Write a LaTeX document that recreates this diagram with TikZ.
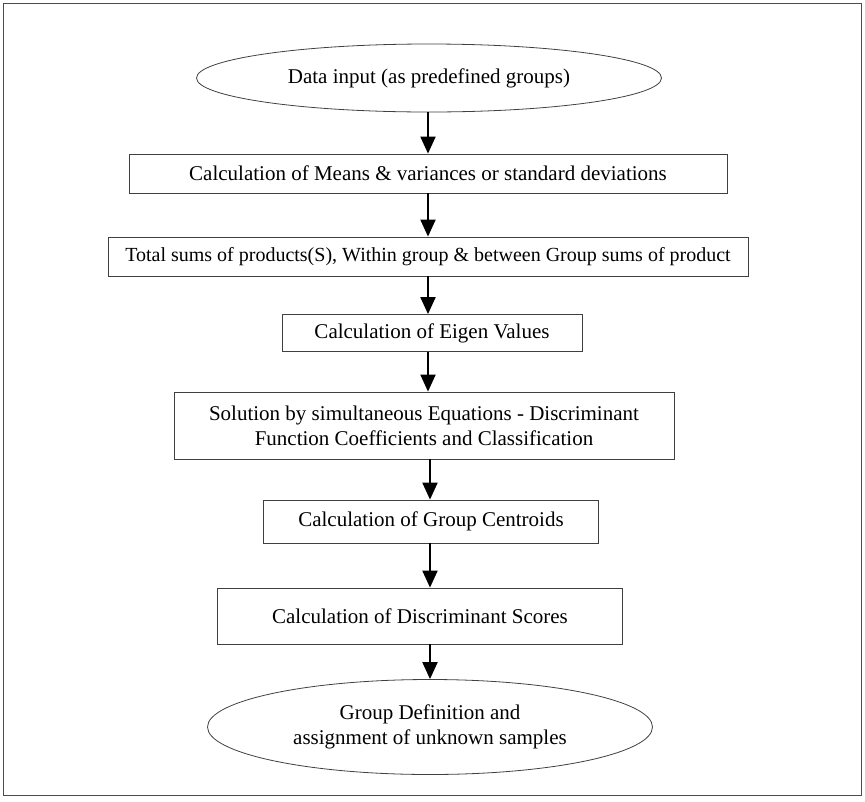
\documentclass[tikz,border=0pt]{standalone}
\usepackage{fontspec}
\setmainfont{Liberation Serif}
\usetikzlibrary{shapes.geometric,arrows.meta}
\tikzset{
  stepbox/.style={draw=black!75,line width=0.8pt,rectangle,align=center,inner sep=2pt,font=\fontsize{21}{25}\selectfont},
  endell/.style={draw=black!75,line width=0.8pt,ellipse,align=center,inner sep=0pt,font=\fontsize{21}{25}\selectfont},
  arr/.style={line width=2pt,-{Triangle[width=15pt,length=17pt]}}
}
\begin{document}
\begin{tikzpicture}[x=1pt,y=-1pt]
\useasboundingbox (0,0) rectangle (865,801);
\draw[black!70,line width=1pt] (3,3) rectangle (861,795);
\node[endell,minimum width=465pt,minimum height=68pt] (e1) at (429,78) {Data input (as predefined groups)};
\node[stepbox,minimum width=598pt,minimum height=39pt] (b2) at (428,173.5) {Calculation of Means \& variances or standard deviations};
\node[stepbox,minimum width=640pt,minimum height=39pt,font=\fontsize{20}{24}\selectfont] (b3) at (428,256.5) {Total sums of products(S), Within group \& between Group sums of product};
\node[stepbox,minimum width=300pt,minimum height=37pt] (b4) at (432,333) {Calculation of Eigen Values};
\node[stepbox,minimum width=500pt,minimum height=67pt] (b5) at (424,425.5) {Solution by simultaneous Equations - Discriminant\\Function Coefficients and Classification};
\node[stepbox,minimum width=335pt,minimum height=43pt] (b6) at (431,521.5) {Calculation of Group Centroids};
\node[stepbox,minimum width=405pt,minimum height=56pt] (b7) at (420,616) {Calculation of Discriminant Scores};
\node[endell,minimum width=445pt,minimum height=95pt] (e8) at (430,727) {Group Definition and\\assignment of unknown samples};
\coordinate (ax) at (428,0);
\coordinate (bx) at (430,0);
\draw[arr] (ax |- e1.south) -- (ax |- b2.north);
\draw[arr] (ax |- b2.south) -- (ax |- b3.north);
\draw[arr] (ax |- b3.south) -- (ax |- b4.north);
\draw[arr] (ax |- b4.south) -- (ax |- b5.north);
\draw[arr] (bx |- b5.south) -- (bx |- b6.north);
\draw[arr] (bx |- b6.south) -- (bx |- b7.north);
\draw[arr] (bx |- b7.south) -- (bx |- e8.north);
\end{tikzpicture}
\end{document}
